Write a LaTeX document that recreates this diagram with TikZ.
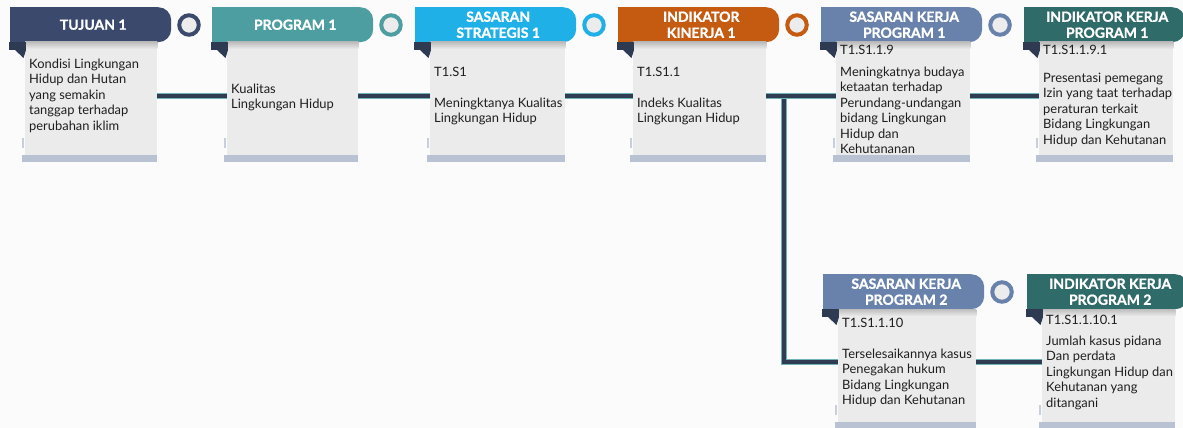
\documentclass[tikz,border=0pt]{standalone}
\usepackage{fontspec}
\setmainfont{Lato}
\newfontfamily\hdrfam[BoldFeatures={FakeBold=1.2}]{Lato}
\usetikzlibrary{calc}

\definecolor{paper}{HTML}{FBFBFC}
\definecolor{cardgray}{HTML}{EBEBEB}
\definecolor{shadowgray}{HTML}{BDBDBD}
\definecolor{stripblue}{HTML}{B9C2D3}
\definecolor{tabnavy}{HTML}{2E3A52}
\definecolor{txt}{HTML}{1E1E1E}
\definecolor{linkteal}{HTML}{6DB3B8}
\definecolor{linkdark}{HTML}{2F3C52}
\definecolor{ringfill}{HTML}{ECECEC}
\definecolor{cTujuan}{HTML}{3B4A6C}
\definecolor{cProgram}{HTML}{4D9EA1}
\definecolor{cSasaran}{HTML}{20B0E8}
\definecolor{cIndikator}{HTML}{C55A11}
\definecolor{cSasKerja}{HTML}{6882AC}
\definecolor{cIndKerja}{HTML}{2F6B69}

\pgfdeclarelayer{paperlayer}
\pgfdeclarelayer{background}
\pgfsetlayers{paperlayer,background,main}

\newcommand\cardfont{\fontsize{12.9}{15.5}\selectfont}
\newcommand\hdrfont{\hdrfam\bfseries\fontsize{14}{16}\selectfont}

\tikzset{
  hdrshape/.style={rectangle, rounded corners=13, minimum width=161,
    minimum height=35, anchor=north west, inner sep=0},
  hdrtext/.style={text=white, font=\hdrfont, align=center, inner sep=0},
  ring/.style={circle, line width=4, minimum size=19.5, fill=ringfill, inner sep=0},
  card/.style={rectangle, fill=cardgray, anchor=north west, inner sep=0,
    minimum height=113},
  cardtext/.style={anchor=north west, inner sep=0, align=left,
    font=\cardfont, text=txt},
  conn/.style={draw=linkteal, double=linkdark, line width=1.2, double distance=3.6},
}

% #1 name, #2 header left x, #3 header top y, #4 colour, #5 card width,
% #6 header text, #7 baseline of first card line, #8 card text
\newcommand\stage[8]{%
  \fill[#4] (#2,#3) rectangle ++(30,35);
  \node[hdrshape, fill=#4] (#1h) at (#2,#3) {};
  \node[hdrtext] (#1t) at ([xshift=2.5pt]#1h.center) {#6};
  \node[ring, draw=#4] (#1r) at (#2+179,#3+18) {};
  \node[card, minimum width=#5] (#1c) at (#2+15,#3+35) {};
  \shade[top color=shadowgray, bottom color=cardgray]
    (#1c.north west) rectangle ([yshift=-7pt]#1c.north east);
  \fill[stripblue] ([xshift=-3pt]#1c.south west) rectangle ([yshift=-7pt]#1c.south east);
  \fill[stripblue!80] (#2+12,#3+131) rectangle (#2+14,#3+141);
  \fill[tabnavy] (#2-1,#3+35) rectangle (#2+16,#3+43);
  \fill[tabnavy] (#2+5,#3+43) -- (#2+16,#3+43) -- (#2+13.5,#3+51) -- cycle;
  \node[cardtext] (#1x) at (#2+19,#7-11) {\rule{0pt}{11pt}#8};
}

\begin{document}
\begin{tikzpicture}[x=1pt,y=-1pt]
\useasboundingbox (0,0) rectangle (1183,428);
\clip (0,0) rectangle (1183,428);
\begin{pgfonlayer}{paperlayer}
  \fill[paper] (0,0) rectangle (1183,428);
\end{pgfonlayer}

\stage{s1}{10}{7}{cTujuan}{132}{TUJUAN 1}{68}%
  {Kondisi Lingkungan\\Hidup dan Hutan\\yang semakin\\tanggap terhadap\\perubahan iklim}
\stage{s2}{212}{7}{cProgram}{131}{PROGRAM 1}{93}%
  {Kualitas\\Lingkungan Hidup}
\stage{s3}{415}{7}{cSasaran}{135}{SASARAN\\STRATEGIS 1}{76}%
  {T1.S1\\[15.5pt]Meningktanya Kualitas\\Lingkungan Hidup}
\stage{s4}{618}{7}{cIndikator}{133}{INDIKATOR\\KINERJA 1}{76}%
  {T1.S1.1\\[15.5pt]Indeks Kualitas\\Lingkungan Hidup}
\stage{s5}{821}{7}{cSasKerja}{134}{SASARAN KERJA\\PROGRAM 1}{54}%
  {T1.S1.1.9\\[6.5pt]Meningkatnya budaya\\ketaatan terhadap\\Perundang-undangan\\bidang Lingkungan\\Hidup dan\\Kehutananan}
\stage{s6}{1024}{7}{cIndKerja}{134}{INDIKATOR KERJA\\PROGRAM 1}{54}%
  {T1.S1.1.9.1\\[12.5pt]Presentasi pemegang\\Izin yang taat terhadap\\peraturan terkait\\Bidang Lingkungan\\Hidup dan Kehutanan}
\stage{s7}{823}{274}{cSasKerja}{138}{SASARAN KERJA\\PROGRAM 2}{327}%
  {T1.S1.1.10\\[15.5pt]Terselesaikannya kasus\\Penegakan hukum\\Bidang Lingkungan\\Hidup dan Kehutanan}
\stage{s8}{1027}{274}{cIndKerja}{133}{INDIKATOR KERJA\\PROGRAM 2}{324}%
  {T1.S1.1.10.1\\[5.5pt]Jumlah kasus pidana\\Dan perdata\\Lingkungan Hidup dan\\Kehutanan yang\\ditangani}

% connectors run behind the cards
\coordinate (row1) at (0,96);
\coordinate (row2) at (0,362);
\coordinate (split) at (784,96);
\begin{pgfonlayer}{background}
  \draw[conn] (split) |- (row2 -| s8c.center);
  \draw[conn] (row1 -| s1c.center) -- (row1 -| s6c.center);
\end{pgfonlayer}
\end{tikzpicture}
\end{document}
